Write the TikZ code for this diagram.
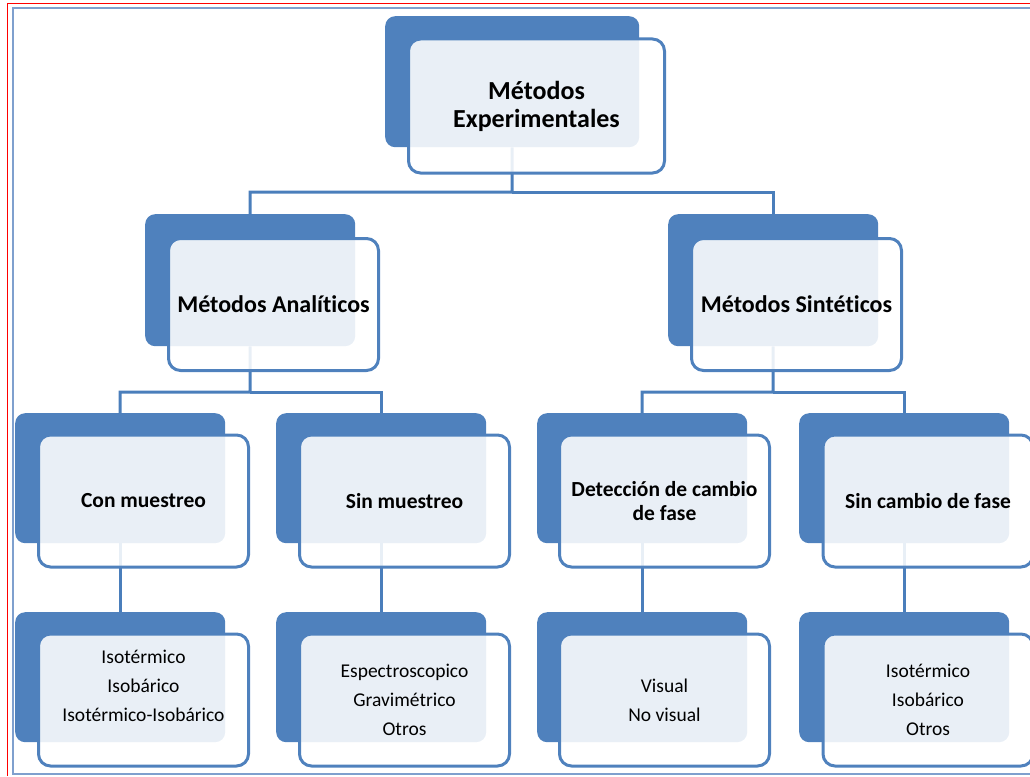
\documentclass[tikz,border=0pt]{standalone}
\usepackage{fontspec}
\setmainfont{Carlito}[Ligatures={NoCommon}]
\definecolor{accent}{HTML}{4F81BD}
\definecolor{linkblue}{HTML}{4A7EBB}
\definecolor{framered}{HTML}{FF0000}
\definecolor{frameblue}{HTML}{7FA0CE}
\begin{document}
\begin{tikzpicture}[x=1pt,y=-1pt,
  backbox/.style={fill=accent, rounded corners=10pt, inner sep=0pt,
    anchor=north west, minimum width=210pt, minimum height=130pt},
  frontbox/.style={draw=accent, line width=3pt, fill=white, fill opacity=0.88,
    text opacity=1, rounded corners=12pt, inner sep=0pt, align=center,
    minimum width=210pt, minimum height=132pt},
  conn/.style={draw=linkblue, line width=3pt},
  lvltop/.style={font=\bfseries\fontsize{26}{28}\selectfont},
  lvltwo/.style={font=\bfseries\fontsize{24}{26}\selectfont},
  lvlthree/.style={font=\bfseries\fontsize{21.5}{24}\selectfont},
  lvlleaf/.style={font=\fontsize{19.5}{29}\selectfont}]
\useasboundingbox (0,0) rectangle (1030,776);

% page frame
\draw[framered, line width=1pt] (7.5,776) -- (7.5,3.5) -- (1030,3.5);
\draw[frameblue, line width=2pt] (1030,8) -- (12.5,8) -- (12.5,774) -- (1030,774);

% back plates
\node[backbox, minimum width=254pt, minimum height=131pt] (top-b) at (385,16) {};
\node[backbox, minimum height=132pt] (ana-b) at (145,214) {};
\node[backbox, minimum height=132pt] (sin-b) at (668,214) {};
\node[backbox] (con-b) at (15,413) {};
\node[backbox] (smu-b) at (276,413) {};
\node[backbox] (det-b) at (537,413) {};
\node[backbox] (scf-b) at (799,413) {};
\node[backbox] (lcon-b) at (15,612) {};
\node[backbox] (lsmu-b) at (276,612) {};
\node[backbox] (ldet-b) at (537,612) {};
\node[backbox] (lscf-b) at (799,612) {};

% connectors
\coordinate (bus0) at (512,192);
\coordinate (bus1) at (250,392);
\coordinate (bus2) at (773,392);
\draw[conn] (top-b.south) -- (bus0) -| (ana-b.north);
\draw[conn] (bus0) -| (sin-b.north);
\draw[conn] (ana-b.south) -- (bus1) -| (con-b.north);
\draw[conn] (bus1) -| (smu-b.north);
\draw[conn] (sin-b.south) -- (bus2) -| (det-b.north);
\draw[conn] (bus2) -| (scf-b.north);
\draw[conn] (con-b.south) -- (lcon-b.north);
\draw[conn] (smu-b.south) -- (lsmu-b.north);
\draw[conn] (det-b.south) -- (ldet-b.north);
\draw[conn] (scf-b.south) -- (lscf-b.north);

% front cards with text
\node[frontbox, lvltop, minimum width=256pt, minimum height=134pt, anchor=north west]
  (top) at ([shift={(22,21.5)}]top-b.north west) {Métodos\\Experimentales};
\node[frontbox, lvltwo, anchor=north west] (ana) at ([shift={(22,23)}]ana-b.north west) {Métodos Analíticos};
\node[frontbox, lvltwo, anchor=north west] (sin) at ([shift={(22,23)}]sin-b.north west) {Métodos Sintéticos};
\node[frontbox, lvlthree, anchor=north west] (con) at ([shift={(22,20.5)}]con-b.north west) {Con muestreo};
\node[frontbox, lvlthree, anchor=north west] (smu) at ([shift={(22,20.5)}]smu-b.north west) {Sin muestreo};
\node[frontbox, lvlthree, anchor=north west] (det) at ([shift={(21,20.5)}]det-b.north west) {Detección de cambio\\de fase};
\node[frontbox, lvlthree, anchor=north west] (scf) at ([shift={(22.5,20.5)}]scf-b.north west) {Sin cambio de fase};
\node[frontbox, lvlleaf, anchor=north west] (lcon) at ([shift={(22,20.5)}]lcon-b.north west) {Isotérmico\\Isobárico\\Isotérmico-Isobárico\\\mbox{}};
\node[frontbox, lvlleaf, anchor=north west] (lsmu) at ([shift={(22,20.5)}]lsmu-b.north west) {Espectroscopico\\Gravimétrico\\Otros};
\node[frontbox, lvlleaf, anchor=north west] (ldet) at ([shift={(21,20.5)}]ldet-b.north west) {Visual\\No visual};
\node[frontbox, lvlleaf, anchor=north west] (lscf) at ([shift={(22.5,20.5)}]lscf-b.north west) {Isotérmico\\Isobárico\\Otros};
\end{tikzpicture}
\end{document}
